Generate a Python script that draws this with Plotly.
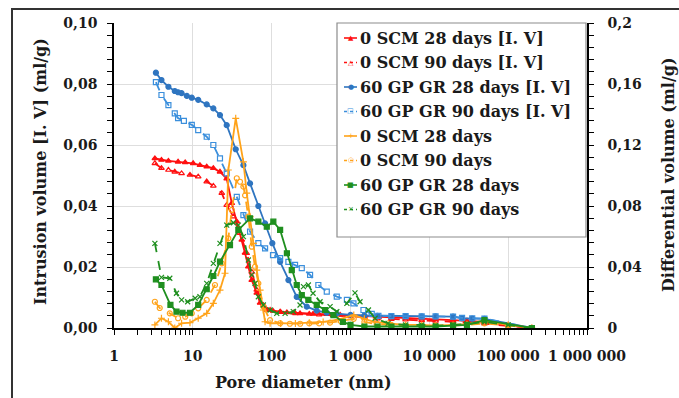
import plotly.graph_objects as go

# Pore diameters (nm) and cumulative intrusion volume (ml/g)
red28_d = [3.3, 4.0, 4.9, 6.5, 8.0, 10.1, 12.3, 15, 18.2, 22.1, 26.9, 31.2, 36.1, 41.8, 45.9, 50.6, 55.9,
           64.7, 71.3, 86.7, 104, 128, 156, 188, 229, 335, 500, 740, 1000, 1500, 2200, 3300, 5000, 8000,
           12000, 20000, 30000, 50000, 100000, 200000]
red28_v = [0.0556, 0.0551, 0.0548, 0.0545, 0.0543, 0.0540, 0.0534, 0.0529, 0.0524, 0.0512, 0.0490, 0.0409,
           0.0349, 0.0289, 0.0246, 0.0201, 0.0157, 0.0115, 0.0082, 0.0059, 0.0056, 0.0053, 0.0051, 0.0050,
           0.0048, 0.0046, 0.0045, 0.0043, 0.0040, 0.0037, 0.0035, 0.0033, 0.0031, 0.0030, 0.0028, 0.0026,
           0.0024, 0.0020, 0.0010, 0.0]

red90_d = [3.3, 4.0, 4.9, 5.9, 7.2, 9.2, 11.7, 15, 18.2, 23.3, 26.9, 32.7, 39.7, 48.3, 55.9, 64.7, 78.5,
           95.5, 130, 200, 300, 400, 600, 1000, 1500, 2200, 3300, 5000, 8000, 12000, 20000, 30000, 50000,
           100000, 200000]
red90_v = [0.0540, 0.0524, 0.0518, 0.0512, 0.0507, 0.0502, 0.0496, 0.0480, 0.0466, 0.0442, 0.0403, 0.0365,
           0.0311, 0.0245, 0.0184, 0.0125, 0.0075, 0.0059, 0.0052, 0.0048, 0.0046, 0.0044, 0.0042, 0.0038,
           0.0034, 0.0031, 0.0029, 0.0027, 0.0025, 0.0023, 0.0021, 0.0018, 0.0014, 0.0008, 0.0]

blue28_d = [3.4, 4.0, 4.9, 5.9, 6.5, 7.2, 8.4, 9.7, 11.7, 15, 18.2, 22.1, 26.9, 35, 43.8, 53.2, 67.8, 82.5,
            102, 128, 163, 208, 279, 373, 500, 670, 1000, 1500, 2200, 3300, 5000, 8000, 12000, 20000,
            26000, 35000, 50000, 200000]
blue28_v = [0.0837, 0.0813, 0.0791, 0.0777, 0.0773, 0.0770, 0.0761, 0.0755, 0.0748, 0.0733, 0.0720, 0.0698,
            0.0665, 0.0586, 0.0534, 0.0474, 0.0400, 0.0343, 0.0278, 0.0217, 0.0157, 0.0102, 0.0070, 0.0057,
            0.0050, 0.0046, 0.0043, 0.0041, 0.0040, 0.0039, 0.0039, 0.0038, 0.0038, 0.0037, 0.0032, 0.0031,
            0.0030, 0.0]

blue90_d = [3.4, 4.0, 4.9, 5.9, 6.5, 7.7, 9.7, 11.7, 15, 18.2, 22.1, 26.9, 36.1, 43.8, 53.2, 67.8, 82.5, 104,
            128, 163, 198, 241, 307, 391, 500, 670, 900, 1090, 1460, 1860, 2260, 3300, 5000, 8000, 12000,
            20000, 26000, 35000, 50000, 200000]
blue90_v = [0.0806, 0.0764, 0.0731, 0.0704, 0.0688, 0.0679, 0.0666, 0.0649, 0.0627, 0.0600, 0.0556, 0.0507,
            0.0430, 0.0370, 0.0316, 0.0278, 0.0261, 0.0239, 0.0229, 0.0217, 0.0207, 0.0196, 0.0174, 0.0141,
            0.0119, 0.0103, 0.0092, 0.0081, 0.0059, 0.0046, 0.0040, 0.0039, 0.0039, 0.0038, 0.0038, 0.0037,
            0.0033, 0.0032, 0.0031, 0.0]

# Differential volume (ml/g)
or28_d = [3.3, 4.0, 4.9, 5.9, 7.2, 9.2, 11.7, 15, 18.2, 22.1, 25.6, 28.2, 35, 43.8, 48.3, 53.2, 58.6, 64.7,
          71.3, 78.5, 82.5, 95.5, 130, 200, 300, 450, 700, 1100, 1500, 2000, 3000, 5000, 8000, 12000, 20000,
          30000, 50000, 100000, 200000]
or28_v = [0.0020, 0.0064, 0.0041, 0.0, 0.0031, 0.0035, 0.0064, 0.0096, 0.0162, 0.0249, 0.0359, 0.1036, 0.1375,
          0.109, 0.0885, 0.073, 0.0555, 0.038, 0.0249, 0.0118, 0.0041, 0.0031, 0.0030, 0.0030, 0.0035, 0.0040,
          0.0055, 0.0085, 0.0060, 0.0040, 0.0030, 0.0020, 0.0020, 0.0015, 0.0020, 0.0025, 0.0045, 0.0020, 0.0]

or90_d = [3.3, 3.8, 5.1, 6.5, 8.0, 9.7, 11.7, 15, 19.1, 23.3, 28.2, 31.2, 36.1, 39.7, 43.8, 46, 50.6, 55.9,
          61.5, 67.8, 78.5, 95.5, 128, 170, 230, 300, 400, 550, 750, 1100, 1500, 2200, 3300, 5000, 8000,
          12000, 20000, 30000, 50000, 100000, 200000]
or90_v = [0.0172, 0.0131, 0.0096, 0.0064, 0.0074, 0.0096, 0.0129, 0.0184, 0.0282, 0.0424, 0.0588, 0.0774,
          0.0982, 0.0959, 0.0927, 0.087, 0.073, 0.0533, 0.0402, 0.0293, 0.014, 0.0052, 0.0031, 0.0028, 0.0028,
          0.0030, 0.0030, 0.0035, 0.0045, 0.0060, 0.0040, 0.0025, 0.0020, 0.0015, 0.0015, 0.0015, 0.0015,
          0.0020, 0.0030, 0.0015, 0.0]

gr28_d = [3.4, 4.0, 5.2, 6.2, 7.4, 9.2, 11.7, 15, 18.2, 22.1, 29.6, 37.8, 53.2, 67.8, 86.7, 105, 128, 156,
          180, 208, 241, 292, 373, 476, 607, 800, 1000, 1500, 2200, 3300, 5000, 8000, 12000, 20000, 30000,
          50000, 200000]
gr28_v = [0.0319, 0.0282, 0.0151, 0.0107, 0.0100, 0.0100, 0.0151, 0.0254, 0.0341, 0.0435, 0.0544, 0.0643,
          0.0719, 0.0697, 0.0664, 0.0697, 0.0643, 0.049, 0.0380, 0.0282, 0.0216, 0.0184, 0.0151, 0.0118,
          0.0085, 0.0040, 0.0020, 0.0010, 0.0010, 0.0010, 0.0010, 0.0010, 0.0010, 0.0015, 0.0020, 0.0052, 0.0]

gr90_d = [3.3, 4.0, 5.1, 6.2, 7.2, 8.6, 10.7, 12.3, 15, 18.2, 22.1, 26.9, 32.7, 37.8, 43.8, 50.6, 55.9, 61.5,
          67.8, 78.5, 95.5, 116, 148, 188, 229, 253, 292, 335, 411, 551, 670, 900, 1140, 1320, 1690, 2050,
          3000, 5000, 8000, 12000, 20000, 30000, 50000, 100000, 200000]
gr90_v = [0.0555, 0.0332, 0.0326, 0.0228, 0.0184, 0.0172, 0.0195, 0.0205, 0.0293, 0.0424, 0.0555, 0.0675,
          0.069, 0.0675, 0.0599, 0.0446, 0.0348, 0.0293, 0.0205, 0.0151, 0.0118, 0.0096, 0.0096, 0.0107,
          0.0151, 0.0271, 0.0282, 0.0228, 0.0172, 0.014, 0.0107, 0.0162, 0.0230, 0.0172, 0.0118, 0.0064,
          0.0030, 0.0020, 0.0020, 0.0015, 0.0020, 0.0025, 0.0040, 0.0020, 0.0]

x_tickvals = [1, 10, 100, 1000, 10000, 100000, 1000000]
x_ticktext = ["1", "10", "100", "1 000", "10 000", "100 000", "1 000 000"]
y1_tickvals = [0, 0.02, 0.04, 0.06, 0.08, 0.10]
y1_ticktext = ["0,00", "0,02", "0,04", "0,06", "0,08", "0,10"]
y2_tickvals = [0, 0.04, 0.08, 0.12, 0.16, 0.2]
y2_ticktext = ["0", "0,04", "0,08", "0,12", "0,16", "0,2"]

# minor tick positions: 2..9 within each decade, and fifths of each major step
x_minor = [m * 10 ** k for k in range(6) for m in range(2, 10)]
y1_minor = [round(i * 0.004, 4) for i in range(26)]
y2_minor = [round(i * 0.008, 4) for i in range(26)]

RED = "#ff1010"
BLUE = "#2f75c0"
BLUE_L = "#3b8fdc"
ORANGE = "#ffa31a"
GREEN = "#1f8f1f"

series = [
    ("0 SCM 28 days [I. V]", red28_d, red28_v, "y", RED, "solid", "triangle-up", "\u25b2"),
    ("0 SCM 90 days [I. V]", red90_d, red90_v, "y", RED, "dash", "triangle-up-open", "\u25b3"),
    ("60 GP GR 28 days [I. V]", blue28_d, blue28_v, "y", BLUE, "solid", "circle", "\u25cf"),
    ("60 GP GR 90 days [I. V]", blue90_d, blue90_v, "y", BLUE_L, "dash", "square-open", "\u25a1"),
    ("0 SCM 28 days", or28_d, or28_v, "y2", ORANGE, "solid", "cross-thin-open", "+"),
    ("0 SCM 90 days", or90_d, or90_v, "y2", ORANGE, "dash", "circle-open", "\u25cb"),
    ("60 GP GR 28 days", gr28_d, gr28_v, "y2", GREEN, "solid", "square", "\u25a0"),
    ("60 GP GR 90 days", gr90_d, gr90_v, "y2", GREEN, "dash", "x-thin-open", "\u00d7"),
]

fig = go.Figure()
for name, d, v, yax, color, dash, sym, _ in series:
    fig.add_trace(go.Scatter(
        x=d, y=v, yaxis=yax, name=name, mode="lines+markers",
        line=dict(color=color, width=1.8, dash=dash),
        marker=dict(symbol=sym, size=5, color=color, line=dict(color=color, width=1.2)),
    ))

# plot area geometry in pixels
L, R, T, B = 114, 587, 23, 328
W, H = R - L, B - T


def px(x):
    return (x - L) / W


def py(y):
    return (B - y) / H


FONT = "DejaVu Serif"
tickfont = dict(family=FONT, size=14, color="#1a1a1a", weight="bold")
titlefont = dict(family=FONT, size=16, color="#1a1a1a", weight="bold")

fig.update_layout(
    width=679, height=398,
    margin=dict(l=L, r=679 - R, t=T, b=398 - B),
    paper_bgcolor="white", plot_bgcolor="white",
    showlegend=False,
    xaxis=dict(
        type="log", range=[0, 6], tickvals=x_tickvals, ticktext=x_ticktext,
        ticks="outside", ticklen=5, tickwidth=1.2, tickcolor="black",
        showline=True, linecolor="black", linewidth=1.5,
        showgrid=True, gridcolor="#dedede", gridwidth=1, zeroline=False,
        tickfont=tickfont, ticklabelstandoff=9,
        minor=dict(tickmode="array", tickvals=x_minor, ticks="outside", ticklen=5,
                   tickwidth=1.2, tickcolor="black", showgrid=False),
    ),
    yaxis=dict(
        range=[0, 0.1], tickvals=y1_tickvals, ticktext=y1_ticktext,
        ticks="outside", ticklen=5, tickwidth=1.2, tickcolor="black",
        showline=True, linecolor="black", linewidth=1.5,
        showgrid=True, gridcolor="#dedede", gridwidth=1, zeroline=False,
        tickfont=tickfont, ticklabelstandoff=7,
        minor=dict(tickmode="array", tickvals=y1_minor, ticks="outside", ticklen=5,
                   tickwidth=1.2, tickcolor="black", showgrid=False),
    ),
    yaxis2=dict(
        overlaying="y", side="right", range=[0, 0.2],
        tickvals=y2_tickvals, ticktext=y2_ticktext,
        ticks="outside", ticklen=5, tickwidth=1.2, tickcolor="black",
        showline=True, linecolor="black", linewidth=1.5,
        showgrid=False, zeroline=False,
        tickfont=tickfont, ticklabelstandoff=11,
        minor=dict(tickmode="array", tickvals=y2_minor, ticks="outside", ticklen=5,
                   tickwidth=1.2, tickcolor="black", showgrid=False),
    ),
)

annotations = [
    dict(text="Intrusion volume [I. V] (ml/g)", x=px(40), y=py(172), textangle=-90, font=titlefont),
    dict(text="Differential volume (ml/g)", x=px(668), y=py(175), textangle=-90, font=titlefont),
    dict(text="Pore diameter (nm)", x=px(303), y=py(382), font=titlefont),
]

shapes = [
    # outer chart frame
    dict(type="rect", xref="paper", yref="paper", x0=px(12), y0=py(9), x1=px(760), y1=py(460),
         line=dict(color="#333333", width=2)),
    # legend box
    dict(type="rect", xref="paper", yref="paper", x0=px(337), y0=py(23), x1=px(586), y1=py(237),
         line=dict(color="#8c8c8c", width=1.2), fillcolor="white", layer="above"),
]

# legend rows
row_y = [38, 62.5, 87, 111.5, 136, 160.5, 185, 209.5]
for (name, _, _, _, color, dash, _, glyph), yy in zip(series, row_y):
    shapes.append(dict(type="line", xref="paper", yref="paper", x0=px(344), x1=px(357),
                       y0=py(yy), y1=py(yy),
                       line=dict(color=color, width=1.6, dash="dot" if dash == "dash" else "solid"),
                       layer="above"))
    annotations.append(dict(text=glyph, x=px(350.5), y=py(yy),
                            font=dict(family="DejaVu Sans", size=7, color=color),
                            xanchor="center", yanchor="middle"))
    annotations.append(dict(text=name, x=px(358), y=py(yy), xanchor="left", yanchor="middle",
                            font=dict(family=FONT, size=16, color="#1a1a1a", weight="bold")))

for a in annotations:
    a.setdefault("xref", "paper")
    a.setdefault("yref", "paper")
    a.setdefault("showarrow", False)
    a.setdefault("xanchor", "center")
    a.setdefault("yanchor", "middle")

fig.update_layout(annotations=annotations, shapes=shapes)
fig.write_html("out.html")
